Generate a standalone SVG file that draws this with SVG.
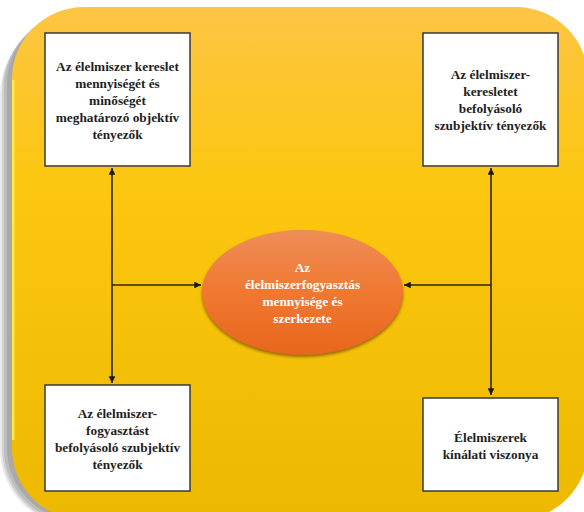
<svg xmlns="http://www.w3.org/2000/svg" width="584" height="512" viewBox="0 0 584 512">
  <defs>
    <linearGradient id="panelFill" x1="0" y1="0" x2="0" y2="1">
      <stop offset="0" stop-color="#FDC545"/>
      <stop offset="0.35" stop-color="#FCC70E"/>
      <stop offset="1" stop-color="#EDB900"/>
    </linearGradient>
    <linearGradient id="ovalFill" x1="0" y1="0" x2="0" y2="1">
      <stop offset="0" stop-color="#EE8D58"/>
      <stop offset="0.5" stop-color="#F07830"/>
      <stop offset="1" stop-color="#E8661C"/>
    </linearGradient>
    <filter id="softShadow" x="-20%" y="-20%" width="140%" height="140%">
      <feGaussianBlur stdDeviation="1.5"/>
    </filter>
    <clipPath id="panelClip">
      <rect x="12" y="7" width="576" height="513" rx="72" ry="72"/>
    </clipPath>
    <marker id="arrow" viewBox="0 0 10 10" refX="10" refY="5" markerWidth="4.2" markerHeight="4.2" orient="auto-start-reverse" markerUnits="strokeWidth">
      <path d="M0,0 L10,5 L0,10 Z" fill="#1a1a1a"/>
    </marker>
    <style>
      .box { fill: #ffffff; stroke: #3a3a3a; stroke-width: 1.5; }
      .label { font-family: 'Liberation Serif', 'DejaVu Serif', serif; font-weight: bold; font-size: 13.3px; fill: #1e1e1e; text-anchor: middle; }
      .ovalLabel { font-family: 'Liberation Serif', 'DejaVu Serif', serif; font-weight: bold; font-size: 13.3px; fill: #ffffff; text-anchor: middle; }
      .link { fill: none; stroke: #2b2610; stroke-width: 1.6; }
      .shade { fill: #707070; }
    </style>
  </defs>

  <!-- background panel; stacked translucent copies form the soft shadow on its left -->
  <g id="panel">
    <rect class="shade" x="0" y="17" width="570" height="510" rx="78" ry="78" opacity="0.15"/>
    <rect class="shade" x="2" y="15" width="570" height="510" rx="76" ry="76" opacity="0.2"/>
    <rect class="shade" x="4" y="13" width="570" height="510" rx="74" ry="74" opacity="0.22"/>
    <rect class="shade" x="7" y="11" width="570" height="510" rx="73" ry="73" opacity="0.25"/>
    <rect x="12" y="7" width="576" height="513" rx="72" ry="72" fill="url(#panelFill)"/>
    <g clip-path="url(#panelClip)">
      <path d="M13,440 L13,80" stroke="#FFEE55" stroke-width="3" opacity="0.85" fill="none"/>
    </g>
  </g>

  <!-- connectors -->
  <g id="connectors">
    <line class="link" x1="112" y1="383" x2="112" y2="168" marker-start="url(#arrow)" marker-end="url(#arrow)"/>
    <line class="link" x1="112" y1="285" x2="201" y2="285" marker-end="url(#arrow)"/>
    <line class="link" x1="491" y1="395" x2="491" y2="168" marker-start="url(#arrow)" marker-end="url(#arrow)"/>
    <line class="link" x1="491" y1="285" x2="404" y2="285" marker-end="url(#arrow)"/>
  </g>

  <!-- top-left factor box -->
  <g id="node-objective">
    <rect class="box" x="45" y="33" width="145" height="133"/>
    <text class="label" x="117.5" y="70.5">Az élelmiszer kereslet</text>
    <text class="label" x="117.5" y="87.7">mennyiségét és</text>
    <text class="label" x="117.5" y="104.9">minőségét</text>
    <text class="label" x="117.5" y="122.1">meghatározó objektív</text>
    <text class="label" x="117.5" y="139.3">tényezők</text>
  </g>

  <!-- top-right factor box -->
  <g id="node-demand-subjective">
    <rect class="box" x="423" y="33" width="135" height="133"/>
    <text class="label" x="490.5" y="78.5">Az élelmiszer-</text>
    <text class="label" x="490.5" y="95.7">keresletet</text>
    <text class="label" x="490.5" y="112.9">befolyásoló</text>
    <text class="label" x="490.5" y="130.1">szubjektív tényezők</text>
  </g>

  <!-- bottom-left factor box -->
  <g id="node-consumption-subjective">
    <rect class="box" x="45" y="385" width="145" height="106"/>
    <text class="label" x="117.5" y="417.5">Az élelmiszer-</text>
    <text class="label" x="117.5" y="434.7">fogyasztást</text>
    <text class="label" x="117.5" y="451.9">befolyásoló szubjektív</text>
    <text class="label" x="117.5" y="469.1">tényezők</text>
  </g>

  <!-- bottom-right factor box -->
  <g id="node-supply">
    <rect class="box" x="423" y="398" width="135" height="93"/>
    <text class="label" x="490.5" y="441.5">Élelmiszerek</text>
    <text class="label" x="490.5" y="458.7">kínálati viszonya</text>
  </g>

  <!-- central outcome -->
  <g id="node-consumption">
    <ellipse cx="302.5" cy="294.5" rx="100.5" ry="62.5" fill="#6b4a10" opacity="0.7" filter="url(#softShadow)"/>
    <ellipse cx="302.5" cy="292.5" rx="100.5" ry="62.5" fill="url(#ovalFill)"/>
    <text class="ovalLabel" x="302.5" y="272">Az</text>
    <text class="ovalLabel" x="302.5" y="289">élelmiszerfogyasztás</text>
    <text class="ovalLabel" x="302.5" y="306">mennyisége és</text>
    <text class="ovalLabel" x="302.5" y="323">szerkezete</text>
  </g>
</svg>
